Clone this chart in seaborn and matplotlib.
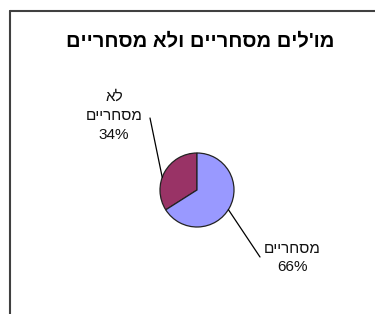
import numpy as np
import matplotlib
matplotlib.use("Agg")
import matplotlib.pyplot as plt
import seaborn as sns

# Hebrew text is stored in logical order and reversed for drawing (matplotlib has no bidi)
title = "מו'לים מסחריים ולא מסחריים"
categories = ["לא מסחריים", "מסחריים"]
values = [34, 66]
colors = ["#993366", "#9999FF"]


def rtl(s):
    return s[::-1]


sns.set_theme(style="white")
plt.rcParams['font.family'] = ['Liberation Sans', 'DejaVu Sans']

fig = plt.figure(figsize=(3.75, 3.14), dpi=100)
fig.patch.set_facecolor("white")

# frame (left and top edges visible)
fig.add_artist(plt.Line2D([10 / 375, 10 / 375], [0, 1 - 11 / 314], color="#404040", lw=1.5,
                          transform=fig.transFigure))
fig.add_artist(plt.Line2D([10 / 375, 1], [1 - 11 / 314, 1 - 11 / 314], color="#404040", lw=1.5,
                          transform=fig.transFigure))

ax = fig.add_axes([0, 0, 1, 1])
cx, cy, r = 197, 314 - 190, 37
wedges, _ = ax.pie(values, colors=colors, startangle=90, counterclock=True,
                   center=(cx, cy), radius=r,
                   wedgeprops=dict(edgecolor="#222222", linewidth=0.9))
ax.set_xlim(0, 375)
ax.set_ylim(0, 314)
ax.set_aspect("auto")
ax.axis("off")

fig.text(200 / 375, 1 - 41 / 314, rtl(title), ha="center", va="center",
         fontsize=14.5, fontweight="bold", color="black")

# labels with leader lines
label_pos = [(114, 314 - 116), (292, 314 - 258)]
line_end = [(150, 314 - 118), (260, 314 - 257)]
attach_ang = [160, 328]
for cat, v, (lx, ly), (ex, ey), a in zip(categories, values, label_pos, line_end, attach_ang):
    words = cat.split(" ")
    txt = "\n".join(rtl(w) for w in words) + f"\n{v}%"
    ax.text(lx, ly, txt, ha="center", va="center", fontsize=11,
            linespacing=1.45, color="#111111")
    px = cx + r * np.cos(np.radians(a))
    py = cy + r * np.sin(np.radians(a))
    ax.plot([px, ex], [py, ey], color="black", lw=0.9)

fig.savefig("out.png", dpi=100, facecolor="white")
